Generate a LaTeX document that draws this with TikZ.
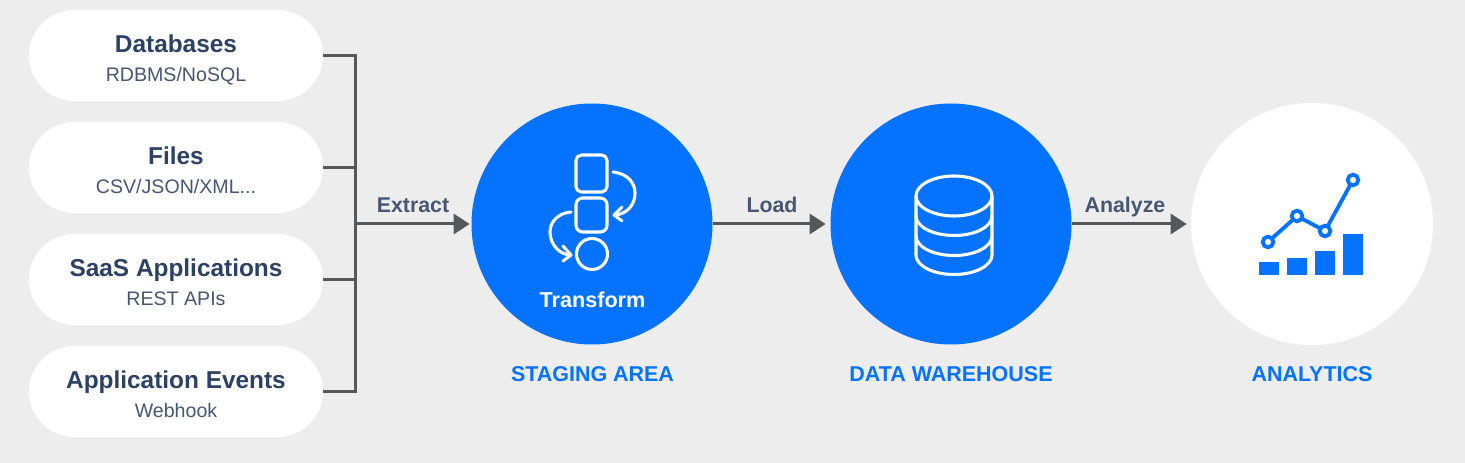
\documentclass[tikz,border=0pt]{standalone}
\usepackage{fontspec}
\setmainfont{Liberation Sans}
\usetikzlibrary{arrows.meta}
\definecolor{bgc}{HTML}{EDEDED}
\definecolor{bluec}{HTML}{0573FF}
\definecolor{navy}{HTML}{2C4164}
\definecolor{subc}{HTML}{475672}
\definecolor{linec}{HTML}{555759}
\tikzset{
  pill/.style={rectangle,rounded corners=45.5*0.75pt,fill=white,minimum width=294*0.75pt,minimum height=91*0.75pt,inner sep=0pt},
  disc/.style={circle,fill=#1,minimum size=241*0.75pt,inner sep=0pt},
  headtxt/.style={anchor=base,inner sep=0pt,text=navy,font=\fontsize{18.3}{20}\selectfont\bfseries},
  subtxt/.style={anchor=base,inner sep=0pt,text=subc,font=\fontsize{14.7}{18}\selectfont},
  flowtxt/.style={anchor=base,inner sep=0pt,text=subc,font=\fontsize{16}{18}\selectfont\bfseries},
  captxt/.style={anchor=base,inner sep=0pt,text=bluec,font=\fontsize{16.1}{18}\selectfont\bfseries},
  busline/.style={draw=linec,line width=2.25pt},
  arr/.style={busline,-{Triangle[length=12pt,width=15pt]}},
  icon/.style={draw=white,line width=2.3pt,line cap=round,line join=round},
  iconb/.style={draw=bluec,line width=2.9pt},
}
\begin{document}
\begin{tikzpicture}[x=0.75pt,y=-0.75pt]
\useasboundingbox[fill=bgc] (0,0) rectangle (1465,463);
% source pills
\node[pill] (db) at (176,55.5) {};
\node[pill] (fi) at (176,167.5) {};
\node[pill] (sa) at (176,279.5) {};
\node[pill] (ev) at (176,391.5) {};
\node[headtxt] (t1) at (176,53) {Databases};
\node[subtxt]  (s1) at (176,82) {RDBMS/NoSQL};
\node[headtxt] (t2) at (176,165) {Files};
\node[subtxt]  (s2) at (176,194) {CSV/JSON/XML...};
\node[headtxt] (t3) at (176,277) {SaaS Applications};
\node[subtxt]  (s3) at (176,306) {REST APIs};
\node[headtxt] (t4) at (176,389) {Application Events};
\node[subtxt]  (s4) at (176,417) {Webhook};
% main circles
\node[disc=bluec] (st) at (592,224) {};
\node[disc=bluec] (wh) at (951,224) {};
\node[disc=white,minimum size=242*0.75pt] (an) at (1312,224) {};
% bus
\coordinate (bt) at (355,55.5);
\coordinate (bb) at (355,391.5);
\coordinate (bm) at (355,224);
\draw[busline,line cap=rect] (bt) -- (bb);
\draw[busline] (db.east) -- (bt);
\draw[busline] (fi.east) -- (fi.east -| bt);
\draw[busline] (sa.east) -- (sa.east -| bt);
\draw[busline] (ev.east) -- (bb);
\draw[arr,shorten >=1.2pt] (bm) -- (st.west);
\draw[arr,shorten >=3.4pt] (st.east) -- (wh.west);
\draw[arr,shorten >=3pt] (wh.east) -- (an.west);
\node[flowtxt] (l1) at (413,213) {Extract};
\node[flowtxt] (l2) at (772,213) {Load};
\node[flowtxt] (l3) at (1125,213) {Analyze};
\node[captxt] (c1) at (592.5,382) {STAGING AREA};
\node[captxt] (c2) at (951,382) {DATA WAREHOUSE};
\node[captxt] (c3) at (1312,382) {ANALYTICS};
% transform icon
\draw[icon,rounded corners=4pt] (576,155) rectangle (607,192);
\draw[icon,rounded corners=5pt] (576,198) rectangle (607,232);
\draw[icon] (592,254) circle[radius=15.5];
\draw[icon] (613,172) .. controls (630,174) and (635,185) .. (635,193) .. controls (635,205) and (627,214) .. (615,215);
\draw[icon] (622,207) -- (614,215) -- (622,221);
\draw[icon] (571,212) .. controls (558,213) and (550,222) .. (550,232) .. controls (550,245) and (560,255) .. (571,255);
\draw[icon] (563,246) -- (571,255) -- (563,261);
\node[anchor=base,inner sep=0pt,text=white,font=\fontsize{16.2}{18}\selectfont\bfseries] (tr) at (592.5,308) {Transform};
% database icon
\draw[icon] (954,196) ellipse[x radius=38,y radius=20];
\draw[icon] (916,196) -- (916,255) arc[start angle=180,end angle=0,x radius=38,y radius=19.5] -- (992,196);
\draw[icon] (916,216) arc[start angle=180,end angle=0,x radius=38,y radius=19.5];
\draw[icon] (916,236) arc[start angle=180,end angle=0,x radius=38,y radius=19.5];
% analytics icon
\draw[iconb] (1268,242) -- (1297,216) -- (1325,231) -- (1353,180);
\foreach \p in {(1268,242),(1297,216),(1325,231),(1353,180)}
  \draw[iconb,fill=white] \p circle[radius=5.3];
\fill[bluec] (1259,262) rectangle (1279,275);
\fill[bluec] (1287,258) rectangle (1307,275);
\fill[bluec] (1315,251) rectangle (1335,275);
\fill[bluec] (1343,234) rectangle (1363,275);
\end{tikzpicture}
\end{document}
